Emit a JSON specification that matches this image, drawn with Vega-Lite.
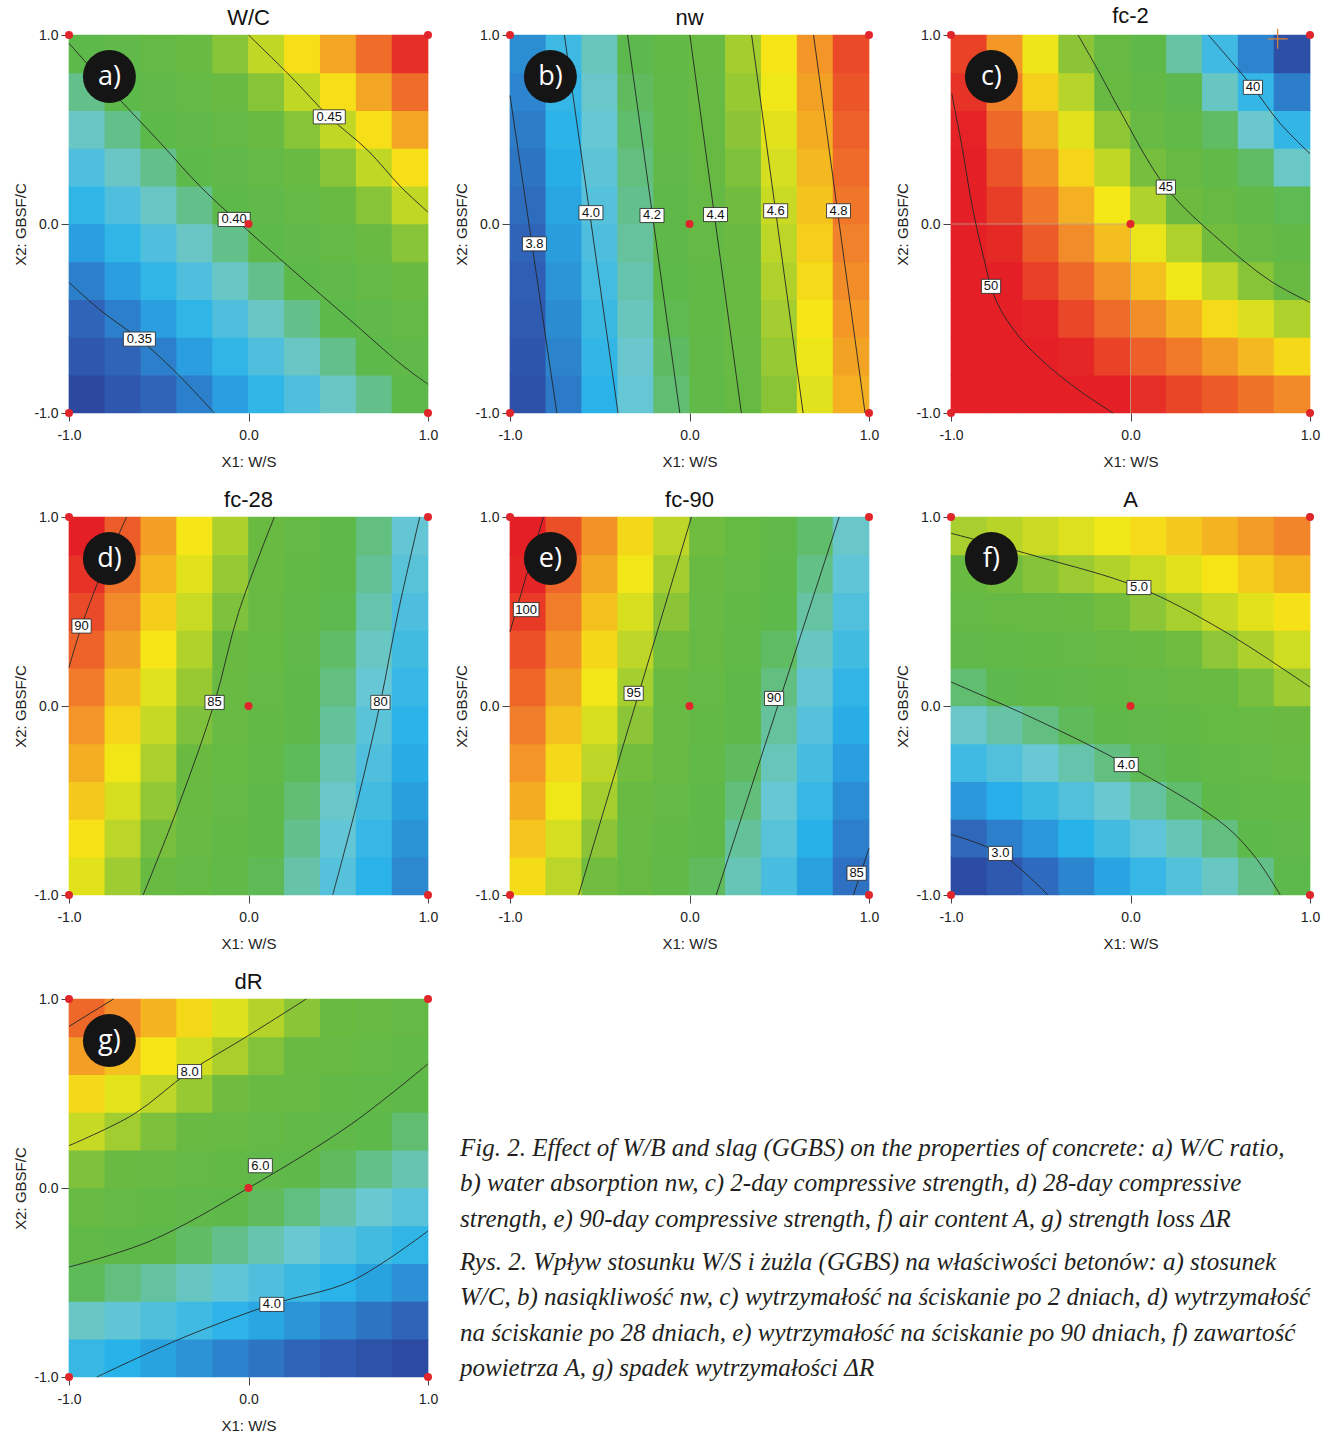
{
"$schema": "https://vega.github.io/schema/vega-lite/v6.json",
"autosize": {"type": "pad"},
"padding": {"left": 13, "top": 5, "right": 5, "bottom": 5},
"background": "white",
"config": {
 "view": {"stroke": null},
 "axis": {"grid": false, "domain": false, "ticks": true, "tickColor": "#444", "tickSize": 8, "labelFont": "Liberation Sans", "labelFontSize": 14, "labelColor": "#222", "titleFont": "Liberation Sans", "titleFontSize": 15, "titleFontWeight": "normal", "titleColor": "#222", "labelFlush": false, "labelOverlap": false},
 "axisX": {"labelPadding": 7, "titlePadding": 12},
 "axisY": {"labelPadding": 3, "titlePadding": 5},
 "title": {"font": "Liberation Sans", "fontSize": 22, "fontWeight": "normal", "color": "#111", "offset": -2, "frame": "group"}
},
"datasets": {
"ca": [
{"x":-0.9,"y":-0.9,"v":0.331},{"x":-0.7,"y":-0.9,"v":0.338},{"x":-0.5,"y":-0.9,"v":0.344},{"x":-0.3,"y":-0.9,"v":0.351},{"x":-0.1,"y":-0.9,"v":0.359},{"x":0.1,"y":-0.9,"v":0.366},{"x":0.3,"y":-0.9,"v":0.374},{"x":0.5,"y":-0.9,"v":0.383},{"x":0.7,"y":-0.9,"v":0.391},{"x":0.9,"y":-0.9,"v":0.400},
{"x":-0.9,"y":-0.7,"v":0.338},{"x":-0.7,"y":-0.7,"v":0.344},{"x":-0.5,"y":-0.7,"v":0.351},{"x":-0.3,"y":-0.7,"v":0.359},{"x":-0.1,"y":-0.7,"v":0.366},{"x":0.1,"y":-0.7,"v":0.374},{"x":0.3,"y":-0.7,"v":0.383},{"x":0.5,"y":-0.7,"v":0.391},{"x":0.7,"y":-0.7,"v":0.400},{"x":0.9,"y":-0.7,"v":0.409},
{"x":-0.9,"y":-0.5,"v":0.344},{"x":-0.7,"y":-0.5,"v":0.351},{"x":-0.5,"y":-0.5,"v":0.359},{"x":-0.3,"y":-0.5,"v":0.366},{"x":-0.1,"y":-0.5,"v":0.374},{"x":0.1,"y":-0.5,"v":0.383},{"x":0.3,"y":-0.5,"v":0.391},{"x":0.5,"y":-0.5,"v":0.400},{"x":0.7,"y":-0.5,"v":0.409},{"x":0.9,"y":-0.5,"v":0.419},
{"x":-0.9,"y":-0.3,"v":0.351},{"x":-0.7,"y":-0.3,"v":0.359},{"x":-0.5,"y":-0.3,"v":0.366},{"x":-0.3,"y":-0.3,"v":0.374},{"x":-0.1,"y":-0.3,"v":0.383},{"x":0.1,"y":-0.3,"v":0.391},{"x":0.3,"y":-0.3,"v":0.400},{"x":0.5,"y":-0.3,"v":0.409},{"x":0.7,"y":-0.3,"v":0.419},{"x":0.9,"y":-0.3,"v":0.429},
{"x":-0.9,"y":-0.1,"v":0.359},{"x":-0.7,"y":-0.1,"v":0.366},{"x":-0.5,"y":-0.1,"v":0.374},{"x":-0.3,"y":-0.1,"v":0.383},{"x":-0.1,"y":-0.1,"v":0.391},{"x":0.1,"y":-0.1,"v":0.400},{"x":0.3,"y":-0.1,"v":0.409},{"x":0.5,"y":-0.1,"v":0.419},{"x":0.7,"y":-0.1,"v":0.429},{"x":0.9,"y":-0.1,"v":0.439},
{"x":-0.9,"y":0.1,"v":0.366},{"x":-0.7,"y":0.1,"v":0.374},{"x":-0.5,"y":0.1,"v":0.383},{"x":-0.3,"y":0.1,"v":0.391},{"x":-0.1,"y":0.1,"v":0.400},{"x":0.1,"y":0.1,"v":0.409},{"x":0.3,"y":0.1,"v":0.419},{"x":0.5,"y":0.1,"v":0.429},{"x":0.7,"y":0.1,"v":0.439},{"x":0.9,"y":0.1,"v":0.449},
{"x":-0.9,"y":0.3,"v":0.374},{"x":-0.7,"y":0.3,"v":0.383},{"x":-0.5,"y":0.3,"v":0.391},{"x":-0.3,"y":0.3,"v":0.400},{"x":-0.1,"y":0.3,"v":0.409},{"x":0.1,"y":0.3,"v":0.419},{"x":0.3,"y":0.3,"v":0.429},{"x":0.5,"y":0.3,"v":0.439},{"x":0.7,"y":0.3,"v":0.449},{"x":0.9,"y":0.3,"v":0.460},
{"x":-0.9,"y":0.5,"v":0.383},{"x":-0.7,"y":0.5,"v":0.391},{"x":-0.5,"y":0.5,"v":0.400},{"x":-0.3,"y":0.5,"v":0.409},{"x":-0.1,"y":0.5,"v":0.419},{"x":0.1,"y":0.5,"v":0.429},{"x":0.3,"y":0.5,"v":0.439},{"x":0.5,"y":0.5,"v":0.449},{"x":0.7,"y":0.5,"v":0.460},{"x":0.9,"y":0.5,"v":0.471},
{"x":-0.9,"y":0.7,"v":0.391},{"x":-0.7,"y":0.7,"v":0.400},{"x":-0.5,"y":0.7,"v":0.409},{"x":-0.3,"y":0.7,"v":0.419},{"x":-0.1,"y":0.7,"v":0.429},{"x":0.1,"y":0.7,"v":0.439},{"x":0.3,"y":0.7,"v":0.449},{"x":0.5,"y":0.7,"v":0.460},{"x":0.7,"y":0.7,"v":0.471},{"x":0.9,"y":0.7,"v":0.482},
{"x":-0.9,"y":0.9,"v":0.400},{"x":-0.7,"y":0.9,"v":0.409},{"x":-0.5,"y":0.9,"v":0.419},{"x":-0.3,"y":0.9,"v":0.429},{"x":-0.1,"y":0.9,"v":0.439},{"x":0.1,"y":0.9,"v":0.449},{"x":0.3,"y":0.9,"v":0.460},{"x":0.5,"y":0.9,"v":0.471},{"x":0.7,"y":0.9,"v":0.482},{"x":0.9,"y":0.9,"v":0.494}
],
"cb": [
{"x":-0.9,"y":-0.9,"v":3.721},{"x":-0.7,"y":-0.9,"v":3.836},{"x":-0.5,"y":-0.9,"v":3.951},{"x":-0.3,"y":-0.9,"v":4.067},{"x":-0.1,"y":-0.9,"v":4.182},{"x":0.1,"y":-0.9,"v":4.298},{"x":0.3,"y":-0.9,"v":4.413},{"x":0.5,"y":-0.9,"v":4.529},{"x":0.7,"y":-0.9,"v":4.644},{"x":0.9,"y":-0.9,"v":4.759},
{"x":-0.9,"y":-0.7,"v":3.738},{"x":-0.7,"y":-0.7,"v":3.853},{"x":-0.5,"y":-0.7,"v":3.968},{"x":-0.3,"y":-0.7,"v":4.084},{"x":-0.1,"y":-0.7,"v":4.199},{"x":0.1,"y":-0.7,"v":4.315},{"x":0.3,"y":-0.7,"v":4.430},{"x":0.5,"y":-0.7,"v":4.546},{"x":0.7,"y":-0.7,"v":4.661},{"x":0.9,"y":-0.7,"v":4.776},
{"x":-0.9,"y":-0.5,"v":3.755},{"x":-0.7,"y":-0.5,"v":3.870},{"x":-0.5,"y":-0.5,"v":3.985},{"x":-0.3,"y":-0.5,"v":4.101},{"x":-0.1,"y":-0.5,"v":4.216},{"x":0.1,"y":-0.5,"v":4.332},{"x":0.3,"y":-0.5,"v":4.447},{"x":0.5,"y":-0.5,"v":4.563},{"x":0.7,"y":-0.5,"v":4.678},{"x":0.9,"y":-0.5,"v":4.793},
{"x":-0.9,"y":-0.3,"v":3.772},{"x":-0.7,"y":-0.3,"v":3.887},{"x":-0.5,"y":-0.3,"v":4.002},{"x":-0.3,"y":-0.3,"v":4.118},{"x":-0.1,"y":-0.3,"v":4.233},{"x":0.1,"y":-0.3,"v":4.349},{"x":0.3,"y":-0.3,"v":4.464},{"x":0.5,"y":-0.3,"v":4.580},{"x":0.7,"y":-0.3,"v":4.695},{"x":0.9,"y":-0.3,"v":4.810},
{"x":-0.9,"y":-0.1,"v":3.789},{"x":-0.7,"y":-0.1,"v":3.904},{"x":-0.5,"y":-0.1,"v":4.019},{"x":-0.3,"y":-0.1,"v":4.135},{"x":-0.1,"y":-0.1,"v":4.250},{"x":0.1,"y":-0.1,"v":4.366},{"x":0.3,"y":-0.1,"v":4.481},{"x":0.5,"y":-0.1,"v":4.597},{"x":0.7,"y":-0.1,"v":4.712},{"x":0.9,"y":-0.1,"v":4.827},
{"x":-0.9,"y":0.1,"v":3.805},{"x":-0.7,"y":0.1,"v":3.920},{"x":-0.5,"y":0.1,"v":4.035},{"x":-0.3,"y":0.1,"v":4.151},{"x":-0.1,"y":0.1,"v":4.266},{"x":0.1,"y":0.1,"v":4.382},{"x":0.3,"y":0.1,"v":4.497},{"x":0.5,"y":0.1,"v":4.613},{"x":0.7,"y":0.1,"v":4.728},{"x":0.9,"y":0.1,"v":4.843},
{"x":-0.9,"y":0.3,"v":3.822},{"x":-0.7,"y":0.3,"v":3.937},{"x":-0.5,"y":0.3,"v":4.052},{"x":-0.3,"y":0.3,"v":4.168},{"x":-0.1,"y":0.3,"v":4.283},{"x":0.1,"y":0.3,"v":4.399},{"x":0.3,"y":0.3,"v":4.514},{"x":0.5,"y":0.3,"v":4.630},{"x":0.7,"y":0.3,"v":4.745},{"x":0.9,"y":0.3,"v":4.860},
{"x":-0.9,"y":0.5,"v":3.839},{"x":-0.7,"y":0.5,"v":3.954},{"x":-0.5,"y":0.5,"v":4.069},{"x":-0.3,"y":0.5,"v":4.185},{"x":-0.1,"y":0.5,"v":4.300},{"x":0.1,"y":0.5,"v":4.416},{"x":0.3,"y":0.5,"v":4.531},{"x":0.5,"y":0.5,"v":4.647},{"x":0.7,"y":0.5,"v":4.762},{"x":0.9,"y":0.5,"v":4.877},
{"x":-0.9,"y":0.7,"v":3.856},{"x":-0.7,"y":0.7,"v":3.971},{"x":-0.5,"y":0.7,"v":4.086},{"x":-0.3,"y":0.7,"v":4.202},{"x":-0.1,"y":0.7,"v":4.317},{"x":0.1,"y":0.7,"v":4.433},{"x":0.3,"y":0.7,"v":4.548},{"x":0.5,"y":0.7,"v":4.664},{"x":0.7,"y":0.7,"v":4.779},{"x":0.9,"y":0.7,"v":4.894},
{"x":-0.9,"y":0.9,"v":3.873},{"x":-0.7,"y":0.9,"v":3.988},{"x":-0.5,"y":0.9,"v":4.103},{"x":-0.3,"y":0.9,"v":4.219},{"x":-0.1,"y":0.9,"v":4.334},{"x":0.1,"y":0.9,"v":4.450},{"x":0.3,"y":0.9,"v":4.565},{"x":0.5,"y":0.9,"v":4.681},{"x":0.7,"y":0.9,"v":4.796},{"x":0.9,"y":0.9,"v":4.911}
],
"cc": [
{"x":-0.9,"y":-0.9,"v":50.80},{"x":-0.7,"y":-0.9,"v":50.53},{"x":-0.5,"y":-0.9,"v":50.26},{"x":-0.3,"y":-0.9,"v":49.97},{"x":-0.1,"y":-0.9,"v":49.67},{"x":0.1,"y":-0.9,"v":49.37},{"x":0.3,"y":-0.9,"v":49.05},{"x":0.5,"y":-0.9,"v":48.73},{"x":0.7,"y":-0.9,"v":48.39},{"x":0.9,"y":-0.9,"v":48.04},
{"x":-0.9,"y":-0.7,"v":50.65},{"x":-0.7,"y":-0.7,"v":50.28},{"x":-0.5,"y":-0.7,"v":49.89},{"x":-0.3,"y":-0.7,"v":49.50},{"x":-0.1,"y":-0.7,"v":49.09},{"x":0.1,"y":-0.7,"v":48.68},{"x":0.3,"y":-0.7,"v":48.26},{"x":0.5,"y":-0.7,"v":47.82},{"x":0.7,"y":-0.7,"v":47.38},{"x":0.9,"y":-0.7,"v":46.92},
{"x":-0.9,"y":-0.5,"v":50.49},{"x":-0.7,"y":-0.5,"v":50.01},{"x":-0.5,"y":-0.5,"v":49.52},{"x":-0.3,"y":-0.5,"v":49.02},{"x":-0.1,"y":-0.5,"v":48.50},{"x":0.1,"y":-0.5,"v":47.98},{"x":0.3,"y":-0.5,"v":47.45},{"x":0.5,"y":-0.5,"v":46.91},{"x":0.7,"y":-0.5,"v":46.35},{"x":0.9,"y":-0.5,"v":45.79},
{"x":-0.9,"y":-0.3,"v":50.32},{"x":-0.7,"y":-0.3,"v":49.73},{"x":-0.5,"y":-0.3,"v":49.13},{"x":-0.3,"y":-0.3,"v":48.52},{"x":-0.1,"y":-0.3,"v":47.90},{"x":0.1,"y":-0.3,"v":47.27},{"x":0.3,"y":-0.3,"v":46.63},{"x":0.5,"y":-0.3,"v":45.98},{"x":0.7,"y":-0.3,"v":45.32},{"x":0.9,"y":-0.3,"v":44.65},
{"x":-0.9,"y":-0.1,"v":50.14},{"x":-0.7,"y":-0.1,"v":49.44},{"x":-0.5,"y":-0.1,"v":48.74},{"x":-0.3,"y":-0.1,"v":48.02},{"x":-0.1,"y":-0.1,"v":47.29},{"x":0.1,"y":-0.1,"v":46.55},{"x":0.3,"y":-0.1,"v":45.80},{"x":0.5,"y":-0.1,"v":45.05},{"x":0.7,"y":-0.1,"v":44.28},{"x":0.9,"y":-0.1,"v":43.50},
{"x":-0.9,"y":0.1,"v":49.95},{"x":-0.7,"y":0.1,"v":49.15},{"x":-0.5,"y":0.1,"v":48.33},{"x":-0.3,"y":0.1,"v":47.50},{"x":-0.1,"y":0.1,"v":46.67},{"x":0.1,"y":0.1,"v":45.82},{"x":0.3,"y":0.1,"v":44.97},{"x":0.5,"y":0.1,"v":44.10},{"x":0.7,"y":0.1,"v":43.22},{"x":0.9,"y":0.1,"v":42.33},
{"x":-0.9,"y":0.3,"v":49.75},{"x":-0.7,"y":0.3,"v":48.84},{"x":-0.5,"y":0.3,"v":47.91},{"x":-0.3,"y":0.3,"v":46.98},{"x":-0.1,"y":0.3,"v":46.04},{"x":0.1,"y":0.3,"v":45.08},{"x":0.3,"y":0.3,"v":44.12},{"x":0.5,"y":0.3,"v":43.14},{"x":0.7,"y":0.3,"v":42.16},{"x":0.9,"y":0.3,"v":41.16},
{"x":-0.9,"y":0.5,"v":49.54},{"x":-0.7,"y":0.5,"v":48.52},{"x":-0.5,"y":0.5,"v":47.49},{"x":-0.3,"y":0.5,"v":46.45},{"x":-0.1,"y":0.5,"v":45.40},{"x":0.1,"y":0.5,"v":44.33},{"x":0.3,"y":0.5,"v":43.26},{"x":0.5,"y":0.5,"v":42.18},{"x":0.7,"y":0.5,"v":41.09},{"x":0.9,"y":0.5,"v":39.98},
{"x":-0.9,"y":0.7,"v":49.32},{"x":-0.7,"y":0.7,"v":48.19},{"x":-0.5,"y":0.7,"v":47.05},{"x":-0.3,"y":0.7,"v":45.90},{"x":-0.1,"y":0.7,"v":44.74},{"x":0.1,"y":0.7,"v":43.57},{"x":0.3,"y":0.7,"v":42.39},{"x":0.5,"y":0.7,"v":41.20},{"x":0.7,"y":0.7,"v":40.00},{"x":0.9,"y":0.7,"v":38.79},
{"x":-0.9,"y":0.9,"v":49.09},{"x":-0.7,"y":0.9,"v":47.85},{"x":-0.5,"y":0.9,"v":46.60},{"x":-0.3,"y":0.9,"v":45.35},{"x":-0.1,"y":0.9,"v":44.08},{"x":0.1,"y":0.9,"v":42.80},{"x":0.3,"y":0.9,"v":41.51},{"x":0.5,"y":0.9,"v":40.22},{"x":0.7,"y":0.9,"v":38.91},{"x":0.9,"y":0.9,"v":37.59}
],
"cd": [
{"x":-0.9,"y":-0.9,"v":86.87},{"x":-0.7,"y":-0.9,"v":85.86},{"x":-0.5,"y":-0.9,"v":84.85},{"x":-0.3,"y":-0.9,"v":83.84},{"x":-0.1,"y":-0.9,"v":82.83},{"x":0.1,"y":-0.9,"v":81.82},{"x":0.3,"y":-0.9,"v":80.81},{"x":0.5,"y":-0.9,"v":79.80},{"x":0.7,"y":-0.9,"v":78.79},{"x":0.9,"y":-0.9,"v":77.78},
{"x":-0.9,"y":-0.7,"v":87.31},{"x":-0.7,"y":-0.7,"v":86.28},{"x":-0.5,"y":-0.7,"v":85.25},{"x":-0.3,"y":-0.7,"v":84.22},{"x":-0.1,"y":-0.7,"v":83.19},{"x":0.1,"y":-0.7,"v":82.16},{"x":0.3,"y":-0.7,"v":81.13},{"x":0.5,"y":-0.7,"v":80.10},{"x":0.7,"y":-0.7,"v":79.07},{"x":0.9,"y":-0.7,"v":78.04},
{"x":-0.9,"y":-0.5,"v":87.75},{"x":-0.7,"y":-0.5,"v":86.70},{"x":-0.5,"y":-0.5,"v":85.65},{"x":-0.3,"y":-0.5,"v":84.60},{"x":-0.1,"y":-0.5,"v":83.55},{"x":0.1,"y":-0.5,"v":82.50},{"x":0.3,"y":-0.5,"v":81.45},{"x":0.5,"y":-0.5,"v":80.40},{"x":0.7,"y":-0.5,"v":79.35},{"x":0.9,"y":-0.5,"v":78.30},
{"x":-0.9,"y":-0.3,"v":88.19},{"x":-0.7,"y":-0.3,"v":87.12},{"x":-0.5,"y":-0.3,"v":86.05},{"x":-0.3,"y":-0.3,"v":84.98},{"x":-0.1,"y":-0.3,"v":83.91},{"x":0.1,"y":-0.3,"v":82.84},{"x":0.3,"y":-0.3,"v":81.77},{"x":0.5,"y":-0.3,"v":80.70},{"x":0.7,"y":-0.3,"v":79.63},{"x":0.9,"y":-0.3,"v":78.56},
{"x":-0.9,"y":-0.1,"v":88.63},{"x":-0.7,"y":-0.1,"v":87.54},{"x":-0.5,"y":-0.1,"v":86.45},{"x":-0.3,"y":-0.1,"v":85.36},{"x":-0.1,"y":-0.1,"v":84.27},{"x":0.1,"y":-0.1,"v":83.18},{"x":0.3,"y":-0.1,"v":82.09},{"x":0.5,"y":-0.1,"v":81.00},{"x":0.7,"y":-0.1,"v":79.91},{"x":0.9,"y":-0.1,"v":78.82},
{"x":-0.9,"y":0.1,"v":89.07},{"x":-0.7,"y":0.1,"v":87.96},{"x":-0.5,"y":0.1,"v":86.85},{"x":-0.3,"y":0.1,"v":85.74},{"x":-0.1,"y":0.1,"v":84.63},{"x":0.1,"y":0.1,"v":83.52},{"x":0.3,"y":0.1,"v":82.41},{"x":0.5,"y":0.1,"v":81.30},{"x":0.7,"y":0.1,"v":80.19},{"x":0.9,"y":0.1,"v":79.08},
{"x":-0.9,"y":0.3,"v":89.51},{"x":-0.7,"y":0.3,"v":88.38},{"x":-0.5,"y":0.3,"v":87.25},{"x":-0.3,"y":0.3,"v":86.12},{"x":-0.1,"y":0.3,"v":84.99},{"x":0.1,"y":0.3,"v":83.86},{"x":0.3,"y":0.3,"v":82.73},{"x":0.5,"y":0.3,"v":81.60},{"x":0.7,"y":0.3,"v":80.47},{"x":0.9,"y":0.3,"v":79.34},
{"x":-0.9,"y":0.5,"v":89.95},{"x":-0.7,"y":0.5,"v":88.80},{"x":-0.5,"y":0.5,"v":87.65},{"x":-0.3,"y":0.5,"v":86.50},{"x":-0.1,"y":0.5,"v":85.35},{"x":0.1,"y":0.5,"v":84.20},{"x":0.3,"y":0.5,"v":83.05},{"x":0.5,"y":0.5,"v":81.90},{"x":0.7,"y":0.5,"v":80.75},{"x":0.9,"y":0.5,"v":79.60},
{"x":-0.9,"y":0.7,"v":90.39},{"x":-0.7,"y":0.7,"v":89.22},{"x":-0.5,"y":0.7,"v":88.05},{"x":-0.3,"y":0.7,"v":86.88},{"x":-0.1,"y":0.7,"v":85.71},{"x":0.1,"y":0.7,"v":84.54},{"x":0.3,"y":0.7,"v":83.37},{"x":0.5,"y":0.7,"v":82.20},{"x":0.7,"y":0.7,"v":81.03},{"x":0.9,"y":0.7,"v":79.86},
{"x":-0.9,"y":0.9,"v":90.83},{"x":-0.7,"y":0.9,"v":89.64},{"x":-0.5,"y":0.9,"v":88.45},{"x":-0.3,"y":0.9,"v":87.26},{"x":-0.1,"y":0.9,"v":86.07},{"x":0.1,"y":0.9,"v":84.88},{"x":0.3,"y":0.9,"v":83.69},{"x":0.5,"y":0.9,"v":82.50},{"x":0.7,"y":0.9,"v":81.31},{"x":0.9,"y":0.9,"v":80.12}
],
"ce": [
{"x":-0.9,"y":-0.9,"v":96.80},{"x":-0.7,"y":-0.9,"v":95.57},{"x":-0.5,"y":-0.9,"v":94.34},{"x":-0.3,"y":-0.9,"v":93.11},{"x":-0.1,"y":-0.9,"v":91.87},{"x":0.1,"y":-0.9,"v":90.64},{"x":0.3,"y":-0.9,"v":89.41},{"x":0.5,"y":-0.9,"v":88.17},{"x":0.7,"y":-0.9,"v":86.94},{"x":0.9,"y":-0.9,"v":85.71},
{"x":-0.9,"y":-0.7,"v":97.24},{"x":-0.7,"y":-0.7,"v":96.00},{"x":-0.5,"y":-0.7,"v":94.76},{"x":-0.3,"y":-0.7,"v":93.52},{"x":-0.1,"y":-0.7,"v":92.29},{"x":0.1,"y":-0.7,"v":91.05},{"x":0.3,"y":-0.7,"v":89.81},{"x":0.5,"y":-0.7,"v":88.57},{"x":0.7,"y":-0.7,"v":87.33},{"x":0.9,"y":-0.7,"v":86.09},
{"x":-0.9,"y":-0.5,"v":97.68},{"x":-0.7,"y":-0.5,"v":96.43},{"x":-0.5,"y":-0.5,"v":95.19},{"x":-0.3,"y":-0.5,"v":93.94},{"x":-0.1,"y":-0.5,"v":92.70},{"x":0.1,"y":-0.5,"v":91.45},{"x":0.3,"y":-0.5,"v":90.21},{"x":0.5,"y":-0.5,"v":88.96},{"x":0.7,"y":-0.5,"v":87.72},{"x":0.9,"y":-0.5,"v":86.47},
{"x":-0.9,"y":-0.3,"v":98.12},{"x":-0.7,"y":-0.3,"v":96.86},{"x":-0.5,"y":-0.3,"v":95.61},{"x":-0.3,"y":-0.3,"v":94.36},{"x":-0.1,"y":-0.3,"v":93.11},{"x":0.1,"y":-0.3,"v":91.86},{"x":0.3,"y":-0.3,"v":90.61},{"x":0.5,"y":-0.3,"v":89.36},{"x":0.7,"y":-0.3,"v":88.11},{"x":0.9,"y":-0.3,"v":86.86},
{"x":-0.9,"y":-0.1,"v":98.55},{"x":-0.7,"y":-0.1,"v":97.30},{"x":-0.5,"y":-0.1,"v":96.04},{"x":-0.3,"y":-0.1,"v":94.78},{"x":-0.1,"y":-0.1,"v":93.52},{"x":0.1,"y":-0.1,"v":92.27},{"x":0.3,"y":-0.1,"v":91.01},{"x":0.5,"y":-0.1,"v":89.75},{"x":0.7,"y":-0.1,"v":88.50},{"x":0.9,"y":-0.1,"v":87.24},
{"x":-0.9,"y":0.1,"v":98.99},{"x":-0.7,"y":0.1,"v":97.73},{"x":-0.5,"y":0.1,"v":96.46},{"x":-0.3,"y":0.1,"v":95.20},{"x":-0.1,"y":0.1,"v":93.94},{"x":0.1,"y":0.1,"v":92.67},{"x":0.3,"y":0.1,"v":91.41},{"x":0.5,"y":0.1,"v":90.15},{"x":0.7,"y":0.1,"v":88.89},{"x":0.9,"y":0.1,"v":87.62},
{"x":-0.9,"y":0.3,"v":99.43},{"x":-0.7,"y":0.3,"v":98.16},{"x":-0.5,"y":0.3,"v":96.89},{"x":-0.3,"y":0.3,"v":95.62},{"x":-0.1,"y":0.3,"v":94.35},{"x":0.1,"y":0.3,"v":93.08},{"x":0.3,"y":0.3,"v":91.81},{"x":0.5,"y":0.3,"v":90.54},{"x":0.7,"y":0.3,"v":89.27},{"x":0.9,"y":0.3,"v":88.01},
{"x":-0.9,"y":0.5,"v":99.86},{"x":-0.7,"y":0.5,"v":98.59},{"x":-0.5,"y":0.5,"v":97.31},{"x":-0.3,"y":0.5,"v":96.04},{"x":-0.1,"y":0.5,"v":94.76},{"x":0.1,"y":0.5,"v":93.49},{"x":0.3,"y":0.5,"v":92.21},{"x":0.5,"y":0.5,"v":90.94},{"x":0.7,"y":0.5,"v":89.66},{"x":0.9,"y":0.5,"v":88.39},
{"x":-0.9,"y":0.7,"v":100.30},{"x":-0.7,"y":0.7,"v":99.02},{"x":-0.5,"y":0.7,"v":97.74},{"x":-0.3,"y":0.7,"v":96.46},{"x":-0.1,"y":0.7,"v":95.18},{"x":0.1,"y":0.7,"v":93.90},{"x":0.3,"y":0.7,"v":92.61},{"x":0.5,"y":0.7,"v":91.33},{"x":0.7,"y":0.7,"v":90.05},{"x":0.9,"y":0.7,"v":88.77},
{"x":-0.9,"y":0.9,"v":100.74},{"x":-0.7,"y":0.9,"v":99.45},{"x":-0.5,"y":0.9,"v":98.16},{"x":-0.3,"y":0.9,"v":96.88},{"x":-0.1,"y":0.9,"v":95.59},{"x":0.1,"y":0.9,"v":94.30},{"x":0.3,"y":0.9,"v":93.02},{"x":0.5,"y":0.9,"v":91.73},{"x":0.7,"y":0.9,"v":90.44},{"x":0.9,"y":0.9,"v":89.15}
],
"cf": [
{"x":-0.9,"y":-0.9,"v":2.776},{"x":-0.7,"y":-0.9,"v":2.907},{"x":-0.5,"y":-0.9,"v":3.042},{"x":-0.3,"y":-0.9,"v":3.181},{"x":-0.1,"y":-0.9,"v":3.325},{"x":0.1,"y":-0.9,"v":3.472},{"x":0.3,"y":-0.9,"v":3.624},{"x":0.5,"y":-0.9,"v":3.781},{"x":0.7,"y":-0.9,"v":3.940},{"x":0.9,"y":-0.9,"v":4.105},
{"x":-0.9,"y":-0.7,"v":3.023},{"x":-0.7,"y":-0.7,"v":3.145},{"x":-0.5,"y":-0.7,"v":3.272},{"x":-0.3,"y":-0.7,"v":3.402},{"x":-0.1,"y":-0.7,"v":3.537},{"x":0.1,"y":-0.7,"v":3.676},{"x":0.3,"y":-0.7,"v":3.819},{"x":0.5,"y":-0.7,"v":3.967},{"x":0.7,"y":-0.7,"v":4.118},{"x":0.9,"y":-0.7,"v":4.274},
{"x":-0.9,"y":-0.5,"v":3.269},{"x":-0.7,"y":-0.5,"v":3.383},{"x":-0.5,"y":-0.5,"v":3.501},{"x":-0.3,"y":-0.5,"v":3.623},{"x":-0.1,"y":-0.5,"v":3.749},{"x":0.1,"y":-0.5,"v":3.880},{"x":0.3,"y":-0.5,"v":4.014},{"x":0.5,"y":-0.5,"v":4.154},{"x":0.7,"y":-0.5,"v":4.296},{"x":0.9,"y":-0.5,"v":4.444},
{"x":-0.9,"y":-0.3,"v":3.516},{"x":-0.7,"y":-0.3,"v":3.621},{"x":-0.5,"y":-0.3,"v":3.731},{"x":-0.3,"y":-0.3,"v":3.844},{"x":-0.1,"y":-0.3,"v":3.962},{"x":0.1,"y":-0.3,"v":4.083},{"x":0.3,"y":-0.3,"v":4.209},{"x":0.5,"y":-0.3,"v":4.340},{"x":0.7,"y":-0.3,"v":4.474},{"x":0.9,"y":-0.3,"v":4.613},
{"x":-0.9,"y":-0.1,"v":3.763},{"x":-0.7,"y":-0.1,"v":3.859},{"x":-0.5,"y":-0.1,"v":3.960},{"x":-0.3,"y":-0.1,"v":4.065},{"x":-0.1,"y":-0.1,"v":4.174},{"x":0.1,"y":-0.1,"v":4.287},{"x":0.3,"y":-0.1,"v":4.404},{"x":0.5,"y":-0.1,"v":4.527},{"x":0.7,"y":-0.1,"v":4.652},{"x":0.9,"y":-0.1,"v":4.782},
{"x":-0.9,"y":0.1,"v":4.009},{"x":-0.7,"y":0.1,"v":4.097},{"x":-0.5,"y":0.1,"v":4.190},{"x":-0.3,"y":0.1,"v":4.285},{"x":-0.1,"y":0.1,"v":4.386},{"x":0.1,"y":0.1,"v":4.491},{"x":0.3,"y":0.1,"v":4.600},{"x":0.5,"y":0.1,"v":4.713},{"x":0.7,"y":0.1,"v":4.830},{"x":0.9,"y":0.1,"v":4.952},
{"x":-0.9,"y":0.3,"v":4.256},{"x":-0.7,"y":0.3,"v":4.335},{"x":-0.5,"y":0.3,"v":4.419},{"x":-0.3,"y":0.3,"v":4.506},{"x":-0.1,"y":0.3,"v":4.598},{"x":0.1,"y":0.3,"v":4.695},{"x":0.3,"y":0.3,"v":4.795},{"x":0.5,"y":0.3,"v":4.900},{"x":0.7,"y":0.3,"v":5.008},{"x":0.9,"y":0.3,"v":5.121},
{"x":-0.9,"y":0.5,"v":4.503},{"x":-0.7,"y":0.5,"v":4.573},{"x":-0.5,"y":0.5,"v":4.649},{"x":-0.3,"y":0.5,"v":4.727},{"x":-0.1,"y":0.5,"v":4.811},{"x":0.1,"y":0.5,"v":4.898},{"x":0.3,"y":0.5,"v":4.990},{"x":0.5,"y":0.5,"v":5.086},{"x":0.7,"y":0.5,"v":5.186},{"x":0.9,"y":0.5,"v":5.290},
{"x":-0.9,"y":0.7,"v":4.749},{"x":-0.7,"y":0.7,"v":4.811},{"x":-0.5,"y":0.7,"v":4.878},{"x":-0.3,"y":0.7,"v":4.948},{"x":-0.1,"y":0.7,"v":5.023},{"x":0.1,"y":0.7,"v":5.102},{"x":0.3,"y":0.7,"v":5.185},{"x":0.5,"y":0.7,"v":5.273},{"x":0.7,"y":0.7,"v":5.364},{"x":0.9,"y":0.7,"v":5.460},
{"x":-0.9,"y":0.9,"v":4.996},{"x":-0.7,"y":0.9,"v":5.049},{"x":-0.5,"y":0.9,"v":5.108},{"x":-0.3,"y":0.9,"v":5.169},{"x":-0.1,"y":0.9,"v":5.235},{"x":0.1,"y":0.9,"v":5.306},{"x":0.3,"y":0.9,"v":5.380},{"x":0.5,"y":0.9,"v":5.459},{"x":0.7,"y":0.9,"v":5.542},{"x":0.9,"y":0.9,"v":5.629}
],
"cg": [
{"x":-0.9,"y":-0.9,"v":4.11},{"x":-0.7,"y":-0.9,"v":3.90},{"x":-0.5,"y":-0.9,"v":3.70},{"x":-0.3,"y":-0.9,"v":3.50},{"x":-0.1,"y":-0.9,"v":3.30},{"x":0.1,"y":-0.9,"v":3.10},{"x":0.3,"y":-0.9,"v":2.90},{"x":0.5,"y":-0.9,"v":2.70},{"x":0.7,"y":-0.9,"v":2.50},{"x":0.9,"y":-0.9,"v":2.30},
{"x":-0.9,"y":-0.7,"v":4.86},{"x":-0.7,"y":-0.7,"v":4.64},{"x":-0.5,"y":-0.7,"v":4.42},{"x":-0.3,"y":-0.7,"v":4.20},{"x":-0.1,"y":-0.7,"v":3.98},{"x":0.1,"y":-0.7,"v":3.76},{"x":0.3,"y":-0.7,"v":3.54},{"x":0.5,"y":-0.7,"v":3.33},{"x":0.7,"y":-0.7,"v":3.11},{"x":0.9,"y":-0.7,"v":2.90},
{"x":-0.9,"y":-0.5,"v":5.59},{"x":-0.7,"y":-0.5,"v":5.35},{"x":-0.5,"y":-0.5,"v":5.11},{"x":-0.3,"y":-0.5,"v":4.87},{"x":-0.1,"y":-0.5,"v":4.63},{"x":0.1,"y":-0.5,"v":4.40},{"x":0.3,"y":-0.5,"v":4.16},{"x":0.5,"y":-0.5,"v":3.93},{"x":0.7,"y":-0.5,"v":3.69},{"x":0.9,"y":-0.5,"v":3.46},
{"x":-0.9,"y":-0.3,"v":6.28},{"x":-0.7,"y":-0.3,"v":6.02},{"x":-0.5,"y":-0.3,"v":5.77},{"x":-0.3,"y":-0.3,"v":5.51},{"x":-0.1,"y":-0.3,"v":5.26},{"x":0.1,"y":-0.3,"v":5.00},{"x":0.3,"y":-0.3,"v":4.75},{"x":0.5,"y":-0.3,"v":4.50},{"x":0.7,"y":-0.3,"v":4.25},{"x":0.9,"y":-0.3,"v":4.00},
{"x":-0.9,"y":-0.1,"v":6.95},{"x":-0.7,"y":-0.1,"v":6.67},{"x":-0.5,"y":-0.1,"v":6.40},{"x":-0.3,"y":-0.1,"v":6.13},{"x":-0.1,"y":-0.1,"v":5.85},{"x":0.1,"y":-0.1,"v":5.58},{"x":0.3,"y":-0.1,"v":5.31},{"x":0.5,"y":-0.1,"v":5.04},{"x":0.7,"y":-0.1,"v":4.77},{"x":0.9,"y":-0.1,"v":4.51},
{"x":-0.9,"y":0.1,"v":7.59},{"x":-0.7,"y":0.1,"v":7.29},{"x":-0.5,"y":0.1,"v":7.00},{"x":-0.3,"y":0.1,"v":6.71},{"x":-0.1,"y":0.1,"v":6.42},{"x":0.1,"y":0.1,"v":6.13},{"x":0.3,"y":0.1,"v":5.84},{"x":0.5,"y":0.1,"v":5.56},{"x":0.7,"y":0.1,"v":5.27},{"x":0.9,"y":0.1,"v":4.99},
{"x":-0.9,"y":0.3,"v":8.19},{"x":-0.7,"y":0.3,"v":7.88},{"x":-0.5,"y":0.3,"v":7.57},{"x":-0.3,"y":0.3,"v":7.27},{"x":-0.1,"y":0.3,"v":6.96},{"x":0.1,"y":0.3,"v":6.65},{"x":0.3,"y":0.3,"v":6.35},{"x":0.5,"y":0.3,"v":6.04},{"x":0.7,"y":0.3,"v":5.74},{"x":0.9,"y":0.3,"v":5.44},
{"x":-0.9,"y":0.5,"v":8.77},{"x":-0.7,"y":0.5,"v":8.44},{"x":-0.5,"y":0.5,"v":8.12},{"x":-0.3,"y":0.5,"v":7.79},{"x":-0.1,"y":0.5,"v":7.47},{"x":0.1,"y":0.5,"v":7.14},{"x":0.3,"y":0.5,"v":6.82},{"x":0.5,"y":0.5,"v":6.50},{"x":0.7,"y":0.5,"v":6.18},{"x":0.9,"y":0.5,"v":5.86},
{"x":-0.9,"y":0.7,"v":9.32},{"x":-0.7,"y":0.7,"v":8.98},{"x":-0.5,"y":0.7,"v":8.63},{"x":-0.3,"y":0.7,"v":8.29},{"x":-0.1,"y":0.7,"v":7.95},{"x":0.1,"y":0.7,"v":7.60},{"x":0.3,"y":0.7,"v":7.26},{"x":0.5,"y":0.7,"v":6.92},{"x":0.7,"y":0.7,"v":6.59},{"x":0.9,"y":0.7,"v":6.25},
{"x":-0.9,"y":0.9,"v":9.84},{"x":-0.7,"y":0.9,"v":9.48},{"x":-0.5,"y":0.9,"v":9.12},{"x":-0.3,"y":0.9,"v":8.76},{"x":-0.1,"y":0.9,"v":8.40},{"x":0.1,"y":0.9,"v":8.04},{"x":0.3,"y":0.9,"v":7.68},{"x":0.5,"y":0.9,"v":7.32},{"x":0.7,"y":0.9,"v":6.97},{"x":0.9,"y":0.9,"v":6.61}
],
"cont": [
{"p":"a","k":"0.45","o":0,"x":0,"y":1},{"p":"a","k":"0.45","o":1,"x":0.237,"y":0.779},{"p":"a","k":"0.45","o":2,"x":0.45,"y":0.567},{"p":"a","k":"0.45","o":3,"x":0.664,"y":0.39},{"p":"a","k":"0.45","o":4,"x":0.85,"y":0.195},{"p":"a","k":"0.45","o":5,"x":1,"y":0.063},
{"p":"a","k":"0.40","o":0,"x":-1,"y":0.956},{"p":"a","k":"0.40","o":1,"x":-0.766,"y":0.708},{"p":"a","k":"0.40","o":2,"x":-0.487,"y":0.425},{"p":"a","k":"0.40","o":3,"x":-0.265,"y":0.195},{"p":"a","k":"0.40","o":4,"x":-0.004,"y":-0.034},{"p":"a","k":"0.40","o":5,"x":0.292,"y":-0.282},{"p":"a","k":"0.40","o":6,"x":0.571,"y":-0.512},{"p":"a","k":"0.40","o":7,"x":0.85,"y":-0.742},{"p":"a","k":"0.40","o":8,"x":1,"y":-0.848},
{"p":"a","k":"0.35","o":0,"x":-1,"y":-0.309},{"p":"a","k":"0.35","o":1,"x":-0.822,"y":-0.459},{"p":"a","k":"0.35","o":2,"x":-0.608,"y":-0.609},{"p":"a","k":"0.35","o":3,"x":-0.413,"y":-0.777},{"p":"a","k":"0.35","o":4,"x":-0.19,"y":-1},
{"p":"b","k":"3.8","o":0,"x":-1,"y":0.68},{"p":"b","k":"3.8","o":1,"x":-0.739,"y":-1},
{"p":"b","k":"4.0","o":0,"x":-0.697,"y":1},{"p":"b","k":"4.0","o":1,"x":-0.398,"y":-1},
{"p":"b","k":"4.2","o":0,"x":-0.345,"y":1},{"p":"b","k":"4.2","o":1,"x":-0.054,"y":-1},
{"p":"b","k":"4.4","o":0,"x":0.002,"y":1},{"p":"b","k":"4.4","o":1,"x":0.289,"y":-1},
{"p":"b","k":"4.6","o":0,"x":0.346,"y":1},{"p":"b","k":"4.6","o":1,"x":0.633,"y":-1},
{"p":"b","k":"4.8","o":0,"x":0.691,"y":1},{"p":"b","k":"4.8","o":1,"x":0.978,"y":-1},
{"p":"c","k":"50","o":0,"x":-0.996,"y":0.691},{"p":"c","k":"50","o":1,"x":-0.935,"y":0.39},{"p":"c","k":"50","o":2,"x":-0.888,"y":0.125},{"p":"c","k":"50","o":3,"x":-0.823,"y":-0.158},{"p":"c","k":"50","o":4,"x":-0.749,"y":-0.406},{"p":"c","k":"50","o":5,"x":-0.618,"y":-0.6},{"p":"c","k":"50","o":6,"x":-0.469,"y":-0.742},{"p":"c","k":"50","o":7,"x":-0.283,"y":-0.883},{"p":"c","k":"50","o":8,"x":-0.097,"y":-1},
{"p":"c","k":"45","o":0,"x":-0.292,"y":1},{"p":"c","k":"45","o":1,"x":-0.171,"y":0.797},{"p":"c","k":"45","o":2,"x":-0.06,"y":0.602},{"p":"c","k":"45","o":3,"x":0.197,"y":0.195},{"p":"c","k":"45","o":4,"x":0.499,"y":-0.088},{"p":"c","k":"45","o":5,"x":0.778,"y":-0.3},{"p":"c","k":"45","o":6,"x":1,"y":-0.415},
{"p":"c","k":"40","o":0,"x":0.434,"y":1},{"p":"c","k":"40","o":1,"x":0.555,"y":0.867},{"p":"c","k":"40","o":2,"x":0.682,"y":0.723},{"p":"c","k":"40","o":3,"x":0.834,"y":0.532},{"p":"c","k":"40","o":4,"x":1,"y":0.372},
{"p":"d","k":"90","o":0,"x":-1,"y":0.204},{"p":"d","k":"90","o":1,"x":-0.93,"y":0.423},{"p":"d","k":"90","o":2,"x":-0.833,"y":0.668},{"p":"d","k":"90","o":3,"x":-0.679,"y":1},
{"p":"d","k":"85","o":0,"x":0.144,"y":1},{"p":"d","k":"85","o":1,"x":-0.056,"y":0.493},{"p":"d","k":"85","o":2,"x":-0.189,"y":0.019},{"p":"d","k":"85","o":3,"x":-0.389,"y":-0.525},{"p":"d","k":"85","o":4,"x":-0.587,"y":-1},
{"p":"d","k":"80","o":0,"x":0.954,"y":1},{"p":"d","k":"80","o":1,"x":0.833,"y":0.493},{"p":"d","k":"80","o":2,"x":0.735,"y":0.019},{"p":"d","k":"80","o":3,"x":0.611,"y":-0.489},{"p":"d","k":"80","o":4,"x":0.469,"y":-1},
{"p":"e","k":"100","o":0,"x":-1,"y":0.393},{"p":"e","k":"100","o":1,"x":-0.814,"y":1},
{"p":"e","k":"95","o":0,"x":0.011,"y":1},{"p":"e","k":"95","o":1,"x":-0.618,"y":-1},
{"p":"e","k":"90","o":0,"x":0.834,"y":1},{"p":"e","k":"90","o":1,"x":0.149,"y":-1},
{"p":"e","k":"85","o":0,"x":1,"y":-0.753},{"p":"e","k":"85","o":1,"x":0.913,"y":-1},
{"p":"f","k":"5.0","o":0,"x":-1,"y":0.914},{"p":"f","k":"5.0","o":1,"x":-0.516,"y":0.79},{"p":"f","k":"5.0","o":2,"x":0.047,"y":0.627},{"p":"f","k":"5.0","o":3,"x":0.514,"y":0.4},{"p":"f","k":"5.0","o":4,"x":1,"y":0.1},
{"p":"f","k":"4.0","o":0,"x":-1,"y":0.127},{"p":"f","k":"4.0","o":1,"x":-0.516,"y":-0.076},{"p":"f","k":"4.0","o":2,"x":-0.024,"y":-0.31},{"p":"f","k":"4.0","o":3,"x":0.514,"y":-0.623},{"p":"f","k":"4.0","o":4,"x":0.695,"y":-0.8},{"p":"f","k":"4.0","o":5,"x":0.834,"y":-1},
{"p":"f","k":"3.0","o":0,"x":-1,"y":-0.68},{"p":"f","k":"3.0","o":1,"x":-0.725,"y":-0.78},{"p":"f","k":"3.0","o":2,"x":-0.46,"y":-1},
{"p":"g","k":"10","o":0,"x":-1,"y":0.855},{"p":"g","k":"10","o":1,"x":-0.752,"y":1},
{"p":"g","k":"8.0","o":0,"x":-1,"y":0.224},{"p":"g","k":"8.0","o":1,"x":-0.64,"y":0.39},{"p":"g","k":"8.0","o":2,"x":-0.328,"y":0.616},{"p":"g","k":"8.0","o":3,"x":0,"y":0.807},{"p":"g","k":"8.0","o":4,"x":0.322,"y":1},
{"p":"g","k":"6.0","o":0,"x":-1,"y":-0.418},{"p":"g","k":"6.0","o":1,"x":-0.546,"y":-0.28},{"p":"g","k":"6.0","o":2,"x":0,"y":0},{"p":"g","k":"6.0","o":3,"x":0.574,"y":0.339},{"p":"g","k":"6.0","o":4,"x":1,"y":0.657},
{"p":"g","k":"4.0","o":0,"x":-0.845,"y":-1},{"p":"g","k":"4.0","o":1,"x":-0.36,"y":-0.79},{"p":"g","k":"4.0","o":2,"x":0.13,"y":-0.616},{"p":"g","k":"4.0","o":3,"x":0.574,"y":-0.492},{"p":"g","k":"4.0","o":4,"x":1,"y":-0.227}
],
"lab": [
{"p":"a","t":"0.45","x":0.45,"y":0.567},{"p":"a","t":"0.40","x":-0.08,"y":0.024},{"p":"a","t":"0.35","x":-0.608,"y":-0.609},
{"p":"b","t":"3.8","x":-0.864,"y":-0.105},{"p":"b","t":"4.0","x":-0.549,"y":0.06},{"p":"b","t":"4.2","x":-0.209,"y":0.045},{"p":"b","t":"4.4","x":0.145,"y":0.05},{"p":"b","t":"4.6","x":0.48,"y":0.07},{"p":"b","t":"4.8","x":0.83,"y":0.07},
{"p":"c","t":"40","x":0.682,"y":0.723},{"p":"c","t":"45","x":0.197,"y":0.195},{"p":"c","t":"50","x":-0.777,"y":-0.33},
{"p":"d","t":"90","x":-0.93,"y":0.423},{"p":"d","t":"85","x":-0.189,"y":0.019},{"p":"d","t":"80","x":0.735,"y":0.019},
{"p":"e","t":"100","x":-0.91,"y":0.51},{"p":"e","t":"95","x":-0.311,"y":0.067},{"p":"e","t":"90","x":0.471,"y":0.04},{"p":"e","t":"85","x":0.931,"y":-0.885},
{"p":"f","t":"5.0","x":0.047,"y":0.627},{"p":"f","t":"4.0","x":-0.024,"y":-0.31},{"p":"f","t":"3.0","x":-0.725,"y":-0.78},
{"p":"g","t":"8.0","x":-0.328,"y":0.616},{"p":"g","t":"6.0","x":0.066,"y":0.118},{"p":"g","t":"4.0","x":0.13,"y":-0.616}
],
"tags": [{"p":"a","t":"a)"},{"p":"b","t":"b)"},{"p":"c","t":"c)"},{"p":"d","t":"d)"},{"p":"e","t":"e)"},{"p":"f","t":"f)"},{"p":"g","t":"g)"}],
"cross": [{"x":-1,"y":0,"x2":0,"y2":0},{"x":0,"y":0,"x2":0,"y2":-1}],
"flag": [{"x":0.82,"y":0.98}],
"pts": [{"x":-1,"y":-1},{"x":-1,"y":1},{"x":1,"y":-1},{"x":1,"y":1},{"x":0,"y":0}],
"cap": [
{"g":1,"n":1,"t":"Fig. 2. Effect of W/B and slag (GGBS) on the properties of concrete: a) W/C ratio,"},
{"g":1,"n":2,"t":"b) water absorption nw, c) 2-day compressive strength, d) 28-day compressive"},
{"g":1,"n":3,"t":"strength, e) 90-day compressive strength, f) air content A, g) strength loss ΔR"},
{"g":2,"n":4,"t":"Rys. 2. Wpływ stosunku W/S i żużla (GGBS) na właściwości betonów: a) stosunek"},
{"g":2,"n":5,"t":"W/C, b) nasiąkliwość nw, c) wytrzymałość na ściskanie po 2 dniach, d) wytrzymałość"},
{"g":2,"n":6,"t":"na ściskanie po 28 dniach, e) wytrzymałość na ściskanie po 90 dniach, f) zawartość"},
{"g":2,"n":7,"t":"powietrza A, g) spadek wytrzymałości ΔR"}
]
},
"columns": 3,
"align": "none",
"bounds": "flush",
"spacing": {"row": 104, "column": 82},
"resolve": {"scale": {"color": "independent", "shape": "independent"}},
"concat": [
{"width": 359, "height": 378, "title": "W/C",
 "layer": [
  {"data": {"name": "ca"}, "mark": {"type": "rect", "width": 36.6, "height": 38.5}, "encoding": {"x": {"field": "x", "type": "quantitative", "scale": {"domain": [-1, 1], "nice": false, "zero": false}, "axis": {"values": [-1, 0, 1], "labelExpr": "replace(format(datum.value, '.1f'), '−', '-')", "title": "X1:  W/S"}}, "y": {"field": "y", "type": "quantitative", "scale": {"domain": [-1, 1], "nice": false, "zero": false}, "axis": {"values": [-1, 0, 1], "labelExpr": "replace(format(datum.value, '.1f'), '−', '-')", "title": "X2: GBSF/C"}}, "color": {"field": "v", "type": "quantitative", "legend": null, "scale": {"domain": [0.3264,0.3435,0.364,0.3811,0.3999,0.4341,0.4581,0.4769,0.4974], "range": ["#2b3f96","#2f62b8","#28b2ea","#6ac8d3","#5db94a","#6aba41","#f6e916","#f2862a","#e41f26"], "clamp": true, "interpolate": "rgb"}}}},
  {"data": {"name": "cont"}, "transform": [{"filter": "datum.p=='a'"}], "mark": {"type": "line", "color": "#262626", "strokeWidth": 0.9, "interpolate": "catmull-rom"}, "encoding": {"x": {"field": "x", "type": "quantitative"}, "y": {"field": "y", "type": "quantitative"}, "detail": {"field": "k", "type": "nominal"}, "order": {"field": "o", "type": "quantitative"}}},
  {"data": {"name": "lab"}, "transform": [{"filter": "datum.p=='a'"}], "mark": {"type": "point", "shape": "M-1,-0.44H1V0.44H-1Z", "size": 1024, "filled": true, "fill": "white", "stroke": "#222", "strokeWidth": 0.8, "opacity": 1}, "encoding": {"x": {"field": "x", "type": "quantitative"}, "y": {"field": "y", "type": "quantitative"}}},
  {"data": {"name": "lab"}, "transform": [{"filter": "datum.p=='a'"}], "mark": {"type": "text", "font": "Liberation Sans", "fontSize": 13, "color": "#111"}, "encoding": {"x": {"field": "x", "type": "quantitative"}, "y": {"field": "y", "type": "quantitative"}, "text": {"field": "t"}}},
  {"data": {"name": "pts"}, "mark": {"type": "point", "filled": true, "color": "#e0262b", "size": 64, "opacity": 1}, "encoding": {"x": {"field": "x", "type": "quantitative"}, "y": {"field": "y", "type": "quantitative"}}},
  {"data": {"name": "tags"}, "transform": [{"filter": "datum.p=='a'"}], "mark": {"type": "point", "shape": "circle", "filled": true, "color": "#151515", "size": 2809, "opacity": 1}, "encoding": {"x": {"datum": -0.775}, "y": {"datum": 0.78}}},
  {"data": {"name": "tags"}, "transform": [{"filter": "datum.p=='a'"}], "mark": {"type": "text", "font": "Open Sans", "fontSize": 27, "color": "white"}, "encoding": {"x": {"datum": -0.775}, "y": {"datum": 0.78}, "text": {"field": "t"}}}
 ]},
{"width": 359, "height": 378, "title": "nw",
 "layer": [
  {"data": {"name": "cb"}, "mark": {"type": "rect", "width": 36.6, "height": 38.5}, "encoding": {"x": {"field": "x", "type": "quantitative", "scale": {"domain": [-1, 1], "nice": false, "zero": false}, "axis": {"values": [-1, 0, 1], "labelExpr": "replace(format(datum.value, '.1f'), '−', '-')", "title": "X1:  W/S"}}, "y": {"field": "y", "type": "quantitative", "scale": {"domain": [-1, 1], "nice": false, "zero": false}, "axis": {"values": [-1, 0, 1], "labelExpr": "replace(format(datum.value, '.1f'), '−', '-')", "title": "X2: GBSF/C"}}, "color": {"field": "v", "type": "quantitative", "legend": null, "scale": {"domain": [3.654,3.786,3.945,4.078,4.223,4.488,4.673,4.819,4.978], "range": ["#2b3f96","#2f62b8","#28b2ea","#6ac8d3","#5db94a","#6aba41","#f6e916","#f2862a","#e41f26"], "clamp": true, "interpolate": "rgb"}}}},
  {"data": {"name": "cont"}, "transform": [{"filter": "datum.p=='b'"}], "mark": {"type": "line", "color": "#262626", "strokeWidth": 0.9, "interpolate": "catmull-rom"}, "encoding": {"x": {"field": "x", "type": "quantitative"}, "y": {"field": "y", "type": "quantitative"}, "detail": {"field": "k", "type": "nominal"}, "order": {"field": "o", "type": "quantitative"}}},
  {"data": {"name": "lab"}, "transform": [{"filter": "datum.p=='b'"}], "mark": {"type": "point", "shape": "M-0.75,-0.44H0.75V0.44H-0.75Z", "size": 1024, "filled": true, "fill": "white", "stroke": "#222", "strokeWidth": 0.8, "opacity": 1}, "encoding": {"x": {"field": "x", "type": "quantitative"}, "y": {"field": "y", "type": "quantitative"}}},
  {"data": {"name": "lab"}, "transform": [{"filter": "datum.p=='b'"}], "mark": {"type": "text", "font": "Liberation Sans", "fontSize": 13, "color": "#111"}, "encoding": {"x": {"field": "x", "type": "quantitative"}, "y": {"field": "y", "type": "quantitative"}, "text": {"field": "t"}}},
  {"data": {"name": "pts"}, "mark": {"type": "point", "filled": true, "color": "#e0262b", "size": 64, "opacity": 1}, "encoding": {"x": {"field": "x", "type": "quantitative"}, "y": {"field": "y", "type": "quantitative"}}},
  {"data": {"name": "tags"}, "transform": [{"filter": "datum.p=='b'"}], "mark": {"type": "point", "shape": "circle", "filled": true, "color": "#151515", "size": 2809, "opacity": 1}, "encoding": {"x": {"datum": -0.775}, "y": {"datum": 0.78}}},
  {"data": {"name": "tags"}, "transform": [{"filter": "datum.p=='b'"}], "mark": {"type": "text", "font": "Open Sans", "fontSize": 27, "color": "white"}, "encoding": {"x": {"datum": -0.775}, "y": {"datum": 0.78}, "text": {"field": "t"}}}
 ]},
{"width": 359, "height": 378, "title": "fc-2",
 "layer": [
  {"data": {"name": "cc"}, "mark": {"type": "rect", "width": 36.6, "height": 38.5}, "encoding": {"x": {"field": "x", "type": "quantitative", "scale": {"domain": [-1, 1], "nice": false, "zero": false}, "axis": {"values": [-1, 0, 1], "labelExpr": "replace(format(datum.value, '.1f'), '−', '-')", "title": "X1:  W/S"}}, "y": {"field": "y", "type": "quantitative", "scale": {"domain": [-1, 1], "nice": false, "zero": false}, "axis": {"values": [-1, 0, 1], "labelExpr": "replace(format(datum.value, '.1f'), '−', '-')", "title": "X2: GBSF/C"}}, "color": {"field": "v", "type": "quantitative", "legend": null, "scale": {"domain": [37,38.26,39.77,41.03,42.42,44.94,46.7,48.09,49.6], "range": ["#2b3f96","#2f62b8","#28b2ea","#6ac8d3","#5db94a","#6aba41","#f6e916","#f2862a","#e41f26"], "clamp": true, "interpolate": "rgb"}}}},
  {"data": {"name": "cross"}, "mark": {"type": "rule", "color": "#b9a58c", "strokeWidth": 1, "opacity": 0.8}, "encoding": {"x": {"field": "x", "type": "quantitative"}, "y": {"field": "y", "type": "quantitative"}, "x2": {"field": "x2"}, "y2": {"field": "y2"}}},
  {"data": {"name": "cont"}, "transform": [{"filter": "datum.p=='c'"}], "mark": {"type": "line", "color": "#262626", "strokeWidth": 0.9, "interpolate": "catmull-rom"}, "encoding": {"x": {"field": "x", "type": "quantitative"}, "y": {"field": "y", "type": "quantitative"}, "detail": {"field": "k", "type": "nominal"}, "order": {"field": "o", "type": "quantitative"}}},
  {"data": {"name": "lab"}, "transform": [{"filter": "datum.p=='c'"}], "mark": {"type": "point", "shape": "M-0.6,-0.44H0.6V0.44H-0.6Z", "size": 1024, "filled": true, "fill": "white", "stroke": "#222", "strokeWidth": 0.8, "opacity": 1}, "encoding": {"x": {"field": "x", "type": "quantitative"}, "y": {"field": "y", "type": "quantitative"}}},
  {"data": {"name": "lab"}, "transform": [{"filter": "datum.p=='c'"}], "mark": {"type": "text", "font": "Liberation Sans", "fontSize": 13, "color": "#111"}, "encoding": {"x": {"field": "x", "type": "quantitative"}, "y": {"field": "y", "type": "quantitative"}, "text": {"field": "t"}}},
  {"data": {"name": "flag"}, "mark": {"type": "point", "shape": "M-1,0H1M0,-1V1", "size": 400, "filled": false, "color": "#d9843a", "strokeWidth": 1.2, "opacity": 1}, "encoding": {"x": {"field": "x", "type": "quantitative"}, "y": {"field": "y", "type": "quantitative"}}},
  {"data": {"name": "pts"}, "mark": {"type": "point", "filled": true, "color": "#e0262b", "size": 64, "opacity": 1}, "encoding": {"x": {"field": "x", "type": "quantitative"}, "y": {"field": "y", "type": "quantitative"}}},
  {"data": {"name": "tags"}, "transform": [{"filter": "datum.p=='c'"}], "mark": {"type": "point", "shape": "circle", "filled": true, "color": "#151515", "size": 2809, "opacity": 1}, "encoding": {"x": {"datum": -0.775}, "y": {"datum": 0.78}}},
  {"data": {"name": "tags"}, "transform": [{"filter": "datum.p=='c'"}], "mark": {"type": "text", "font": "Open Sans", "fontSize": 27, "color": "white"}, "encoding": {"x": {"datum": -0.775}, "y": {"datum": 0.78}, "text": {"field": "t"}}}
 ]},
{"width": 359, "height": 378, "title": "fc-28",
 "layer": [
  {"data": {"name": "cd"}, "mark": {"type": "rect", "width": 36.6, "height": 38.5}, "encoding": {"x": {"field": "x", "type": "quantitative", "scale": {"domain": [-1, 1], "nice": false, "zero": false}, "axis": {"values": [-1, 0, 1], "labelExpr": "replace(format(datum.value, '.1f'), '−', '-')", "title": "X1:  W/S"}}, "y": {"field": "y", "type": "quantitative", "scale": {"domain": [-1, 1], "nice": false, "zero": false}, "axis": {"values": [-1, 0, 1], "labelExpr": "replace(format(datum.value, '.1f'), '−', '-')", "title": "X2: GBSF/C"}}, "color": {"field": "v", "type": "quantitative", "legend": null, "scale": {"domain": [75.35,76.89,78.73,80.27,81.96,85.04,87.19,88.88,90.73], "range": ["#2b3f96","#2f62b8","#28b2ea","#6ac8d3","#5db94a","#6aba41","#f6e916","#f2862a","#e41f26"], "clamp": true, "interpolate": "rgb"}}}},
  {"data": {"name": "cont"}, "transform": [{"filter": "datum.p=='d'"}], "mark": {"type": "line", "color": "#262626", "strokeWidth": 0.9, "interpolate": "catmull-rom"}, "encoding": {"x": {"field": "x", "type": "quantitative"}, "y": {"field": "y", "type": "quantitative"}, "detail": {"field": "k", "type": "nominal"}, "order": {"field": "o", "type": "quantitative"}}},
  {"data": {"name": "lab"}, "transform": [{"filter": "datum.p=='d'"}], "mark": {"type": "point", "shape": "M-0.6,-0.44H0.6V0.44H-0.6Z", "size": 1024, "filled": true, "fill": "white", "stroke": "#222", "strokeWidth": 0.8, "opacity": 1}, "encoding": {"x": {"field": "x", "type": "quantitative"}, "y": {"field": "y", "type": "quantitative"}}},
  {"data": {"name": "lab"}, "transform": [{"filter": "datum.p=='d'"}], "mark": {"type": "text", "font": "Liberation Sans", "fontSize": 13, "color": "#111"}, "encoding": {"x": {"field": "x", "type": "quantitative"}, "y": {"field": "y", "type": "quantitative"}, "text": {"field": "t"}}},
  {"data": {"name": "pts"}, "mark": {"type": "point", "filled": true, "color": "#e0262b", "size": 64, "opacity": 1}, "encoding": {"x": {"field": "x", "type": "quantitative"}, "y": {"field": "y", "type": "quantitative"}}},
  {"data": {"name": "tags"}, "transform": [{"filter": "datum.p=='d'"}], "mark": {"type": "point", "shape": "circle", "filled": true, "color": "#151515", "size": 2809, "opacity": 1}, "encoding": {"x": {"datum": -0.775}, "y": {"datum": 0.78}}},
  {"data": {"name": "tags"}, "transform": [{"filter": "datum.p=='d'"}], "mark": {"type": "text", "font": "Open Sans", "fontSize": 27, "color": "white"}, "encoding": {"x": {"datum": -0.775}, "y": {"datum": 0.78}, "text": {"field": "t"}}}
 ]},
{"width": 359, "height": 378, "title": "fc-90",
 "layer": [
  {"data": {"name": "ce"}, "mark": {"type": "rect", "width": 36.6, "height": 38.5}, "encoding": {"x": {"field": "x", "type": "quantitative", "scale": {"domain": [-1, 1], "nice": false, "zero": false}, "axis": {"values": [-1, 0, 1], "labelExpr": "replace(format(datum.value, '.1f'), '−', '-')", "title": "X1:  W/S"}}, "y": {"field": "y", "type": "quantitative", "scale": {"domain": [-1, 1], "nice": false, "zero": false}, "axis": {"values": [-1, 0, 1], "labelExpr": "replace(format(datum.value, '.1f'), '−', '-')", "title": "X2: GBSF/C"}}, "color": {"field": "v", "type": "quantitative", "legend": null, "scale": {"domain": [83.69,85.36,87.36,89.03,90.87,94.21,96.55,98.39,100.39], "range": ["#2b3f96","#2f62b8","#28b2ea","#6ac8d3","#5db94a","#6aba41","#f6e916","#f2862a","#e41f26"], "clamp": true, "interpolate": "rgb"}}}},
  {"data": {"name": "cont"}, "transform": [{"filter": "datum.p=='e'"}], "mark": {"type": "line", "color": "#262626", "strokeWidth": 0.9, "interpolate": "catmull-rom"}, "encoding": {"x": {"field": "x", "type": "quantitative"}, "y": {"field": "y", "type": "quantitative"}, "detail": {"field": "k", "type": "nominal"}, "order": {"field": "o", "type": "quantitative"}}},
  {"data": {"name": "lab"}, "transform": [{"filter": "datum.p=='e'"}], "mark": {"type": "point", "size": 1024, "filled": true, "fill": "white", "stroke": "#222", "strokeWidth": 0.8, "opacity": 1}, "encoding": {"x": {"field": "x", "type": "quantitative"}, "y": {"field": "y", "type": "quantitative"}, "shape": {"field": "t", "type": "nominal", "legend": null, "scale": {"domain": ["100","95","90","85"], "range": ["M-0.8,-0.44H0.8V0.44H-0.8Z","M-0.6,-0.44H0.6V0.44H-0.6Z","M-0.6,-0.44H0.6V0.44H-0.6Z","M-0.6,-0.44H0.6V0.44H-0.6Z"]}}}},
  {"data": {"name": "lab"}, "transform": [{"filter": "datum.p=='e'"}], "mark": {"type": "text", "font": "Liberation Sans", "fontSize": 13, "color": "#111"}, "encoding": {"x": {"field": "x", "type": "quantitative"}, "y": {"field": "y", "type": "quantitative"}, "text": {"field": "t"}}},
  {"data": {"name": "pts"}, "mark": {"type": "point", "filled": true, "color": "#e0262b", "size": 64, "opacity": 1}, "encoding": {"x": {"field": "x", "type": "quantitative"}, "y": {"field": "y", "type": "quantitative"}}},
  {"data": {"name": "tags"}, "transform": [{"filter": "datum.p=='e'"}], "mark": {"type": "point", "shape": "circle", "filled": true, "color": "#151515", "size": 2809, "opacity": 1}, "encoding": {"x": {"datum": -0.775}, "y": {"datum": 0.78}}},
  {"data": {"name": "tags"}, "transform": [{"filter": "datum.p=='e'"}], "mark": {"type": "text", "font": "Open Sans", "fontSize": 27, "color": "white"}, "encoding": {"x": {"datum": -0.775}, "y": {"datum": 0.78}, "text": {"field": "t"}}}
 ]},
{"width": 359, "height": 378, "title": "A",
 "layer": [
  {"data": {"name": "cf"}, "mark": {"type": "rect", "width": 36.6, "height": 38.5}, "encoding": {"x": {"field": "x", "type": "quantitative", "scale": {"domain": [-1, 1], "nice": false, "zero": false}, "axis": {"values": [-1, 0, 1], "labelExpr": "replace(format(datum.value, '.1f'), '−', '-')", "title": "X1:  W/S"}}, "y": {"field": "y", "type": "quantitative", "scale": {"domain": [-1, 1], "nice": false, "zero": false}, "axis": {"values": [-1, 0, 1], "labelExpr": "replace(format(datum.value, '.1f'), '−', '-')", "title": "X2: GBSF/C"}}, "color": {"field": "v", "type": "quantitative", "legend": null, "scale": {"domain": [2.66,2.997,3.401,3.738,4.109,4.783,5.255,5.626,6.03], "range": ["#2b3f96","#2f62b8","#28b2ea","#6ac8d3","#5db94a","#6aba41","#f6e916","#f2862a","#e41f26"], "clamp": true, "interpolate": "rgb"}}}},
  {"data": {"name": "cont"}, "transform": [{"filter": "datum.p=='f'"}], "mark": {"type": "line", "color": "#262626", "strokeWidth": 0.9, "interpolate": "catmull-rom"}, "encoding": {"x": {"field": "x", "type": "quantitative"}, "y": {"field": "y", "type": "quantitative"}, "detail": {"field": "k", "type": "nominal"}, "order": {"field": "o", "type": "quantitative"}}},
  {"data": {"name": "lab"}, "transform": [{"filter": "datum.p=='f'"}], "mark": {"type": "point", "shape": "M-0.75,-0.44H0.75V0.44H-0.75Z", "size": 1024, "filled": true, "fill": "white", "stroke": "#222", "strokeWidth": 0.8, "opacity": 1}, "encoding": {"x": {"field": "x", "type": "quantitative"}, "y": {"field": "y", "type": "quantitative"}}},
  {"data": {"name": "lab"}, "transform": [{"filter": "datum.p=='f'"}], "mark": {"type": "text", "font": "Liberation Sans", "fontSize": 13, "color": "#111"}, "encoding": {"x": {"field": "x", "type": "quantitative"}, "y": {"field": "y", "type": "quantitative"}, "text": {"field": "t"}}},
  {"data": {"name": "pts"}, "mark": {"type": "point", "filled": true, "color": "#e0262b", "size": 64, "opacity": 1}, "encoding": {"x": {"field": "x", "type": "quantitative"}, "y": {"field": "y", "type": "quantitative"}}},
  {"data": {"name": "tags"}, "transform": [{"filter": "datum.p=='f'"}], "mark": {"type": "point", "shape": "circle", "filled": true, "color": "#151515", "size": 2809, "opacity": 1}, "encoding": {"x": {"datum": -0.775}, "y": {"datum": 0.78}}},
  {"data": {"name": "tags"}, "transform": [{"filter": "datum.p=='f'"}], "mark": {"type": "text", "font": "Open Sans", "fontSize": 27, "color": "white"}, "encoding": {"x": {"datum": -0.775}, "y": {"datum": 0.78}, "text": {"field": "t"}}}
 ]},
{"width": 359, "height": 378, "title": "dR",
 "layer": [
  {"data": {"name": "cg"}, "mark": {"type": "rect", "width": 36.6, "height": 38.5}, "encoding": {"x": {"field": "x", "type": "quantitative", "scale": {"domain": [-1, 1], "nice": false, "zero": false}, "axis": {"values": [-1, 0, 1], "labelExpr": "replace(format(datum.value, '.1f'), '−', '-')", "title": "X1:  W/S"}}, "y": {"field": "y", "type": "quantitative", "scale": {"domain": [-1, 1], "nice": false, "zero": false}, "axis": {"values": [-1, 0, 1], "labelExpr": "replace(format(datum.value, '.1f'), '−', '-')", "title": "X2: GBSF/C"}}, "color": {"field": "v", "type": "quantitative", "legend": null, "scale": {"domain": [2.02,2.875,3.901,4.756,5.697,7.407,8.604,9.544,10.57], "range": ["#2b3f96","#2f62b8","#28b2ea","#6ac8d3","#5db94a","#6aba41","#f6e916","#f2862a","#e41f26"], "clamp": true, "interpolate": "rgb"}}}},
  {"data": {"name": "cont"}, "transform": [{"filter": "datum.p=='g'"}], "mark": {"type": "line", "color": "#262626", "strokeWidth": 0.9, "interpolate": "catmull-rom"}, "encoding": {"x": {"field": "x", "type": "quantitative"}, "y": {"field": "y", "type": "quantitative"}, "detail": {"field": "k", "type": "nominal"}, "order": {"field": "o", "type": "quantitative"}}},
  {"data": {"name": "lab"}, "transform": [{"filter": "datum.p=='g'"}], "mark": {"type": "point", "shape": "M-0.75,-0.44H0.75V0.44H-0.75Z", "size": 1024, "filled": true, "fill": "white", "stroke": "#222", "strokeWidth": 0.8, "opacity": 1}, "encoding": {"x": {"field": "x", "type": "quantitative"}, "y": {"field": "y", "type": "quantitative"}}},
  {"data": {"name": "lab"}, "transform": [{"filter": "datum.p=='g'"}], "mark": {"type": "text", "font": "Liberation Sans", "fontSize": 13, "color": "#111"}, "encoding": {"x": {"field": "x", "type": "quantitative"}, "y": {"field": "y", "type": "quantitative"}, "text": {"field": "t"}}},
  {"data": {"name": "pts"}, "mark": {"type": "point", "filled": true, "color": "#e0262b", "size": 64, "opacity": 1}, "encoding": {"x": {"field": "x", "type": "quantitative"}, "y": {"field": "y", "type": "quantitative"}}},
  {"data": {"name": "tags"}, "transform": [{"filter": "datum.p=='g'"}], "mark": {"type": "point", "shape": "circle", "filled": true, "color": "#151515", "size": 2809, "opacity": 1}, "encoding": {"x": {"datum": -0.775}, "y": {"datum": 0.78}}},
  {"data": {"name": "tags"}, "transform": [{"filter": "datum.p=='g'"}], "mark": {"type": "text", "font": "Open Sans", "fontSize": 27, "color": "white"}, "encoding": {"x": {"datum": -0.775}, "y": {"datum": 0.78}, "text": {"field": "t"}}}
 ]},
{"width": 359, "height": 378, "data": {"name": "cap"},
 "layer": [
  {"transform": [{"filter": "datum.g==1"}], "mark": {"type": "text", "align": "left", "baseline": "middle", "font": "Liberation Serif", "fontStyle": "italic", "fontSize": 25, "color": "#231f20", "dx": -50}, "encoding": {"x": {"datum": 0, "type": "quantitative", "scale": {"domain": [0, 1]}, "axis": null}, "y": {"field": "n", "type": "quantitative", "scale": {"domain": [-3.197, 7.451], "reverse": true, "nice": false, "zero": false}, "axis": null}, "text": {"field": "t"}}},
  {"transform": [{"filter": "datum.g==2"}], "mark": {"type": "text", "align": "left", "baseline": "middle", "font": "Liberation Serif", "fontStyle": "italic", "fontSize": 25, "color": "#231f20", "dx": -50, "yOffset": 7.5}, "encoding": {"x": {"datum": 0, "type": "quantitative"}, "y": {"field": "n", "type": "quantitative"}, "text": {"field": "t"}}}
 ]}
]
}
